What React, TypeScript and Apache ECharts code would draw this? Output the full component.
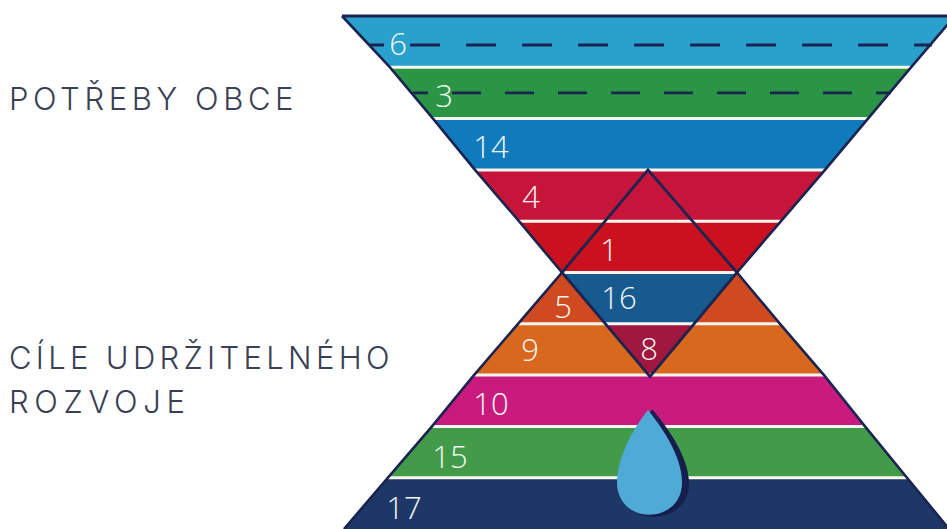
import React, { useEffect, useRef } from "react";
import * as echarts from "echarts";

// Rows of the hourglass, top to bottom (one row per level of the y axis)
const rowLabels = ["6", "3", "14", "4", "1", "5", "9", "10", "15", "17"];
const rowColors = ["#2aa0cc", "#2a9645", "#0f7abc", "#c5153b", "#c9111f", "#cf4a20", "#d9681f", "#c91b7d", "#429b48", "#1d3767"];
// Outline of the hourglass at each level (x axis units)
const outlineLeft = [342, 390, 433, 475, 519, 562, 518, 474, 432, 388, 344];
const outlineRight = [955, 911, 868, 825, 781, 737, 780, 824, 865, 907, 949];
// Inner diamond
const diamondX = [648, 737, 650, 562];
const diamondLevel = [3, 5, 7.03, 5];
const innerRows = [
  { color: "#165a8f", x: [562, 737, 693.5, 606], level: [5, 5, 6, 6] },
  { color: "#a01740", x: [606, 693.5, 650], level: [6, 6, 7.03] },
];
// Dashed lines
const dashLevel = [0.565, 1.5];
const dashFrom = [370, 413];
const dashTo = [932, 891];
const dashPhase = [16, 14];
const dashPattern = [[30, 26], [29, 24]];
// Goal numbers
const goalLabels = ["6", "3", "14", "4", "1", "16", "5", "9", "8", "10", "15", "17"];
const goalX = [398, 444, 491, 531, 609, 619, 563, 530, 649, 491, 450, 404];
const goalLevel = [0.53, 1.54, 2.53, 3.51, 4.54, 5.48, 5.65, 6.49, 6.47, 7.54, 8.58, 9.57];
const titleTop = "POTŘEBY OBCE";
const titleBottom = "CÍLE UDRŽITELNÉHO\nROZVOJE";
const titleSpacing: Record<string, string> = {
  "POTŘEBY OBCE": "4.6px",
  "CÍLE UDRŽITELNÉHO": "4.3px",
  "ROZVOJE": "5.7px",
};

const dropPath =
  "M31 0 C19 15 0 45 0 73 C0 92 14 105 32 105 C51 105 65 92 65 73 C65 45 43 15 31 0 Z";

const NAVY = "#1b2450";

function layer(n: number, renderItem: any, z: number) {
  return {
    type: "custom",
    coordinateSystem: "cartesian2d",
    silent: true,
    z,
    clip: false,
    data: Array.from({ length: n }, (_, i) => [i]),
    renderItem,
  };
}

export default function App() {
  const ref = useRef<HTMLDivElement>(null);
  useEffect(() => {
    document.body.style.margin = "0";
    const chart = echarts.init(ref.current!, undefined, { renderer: "svg" });
    const poly = (xs: number[], ls: number[], api: any) =>
      xs.map((x, i) => api.coord([x, ls[i]]));
    chart.setOption({
      animation: false,
      backgroundColor: "#ffffff",
      grid: { left: 0, right: 0, top: 16, bottom: 0 },
      xAxis: { type: "value", min: 0, max: 947, show: false },
      yAxis: { type: "value", min: 0, max: 10, inverse: true, show: false },
      tooltip: { show: false },
      graphic: [
        {
          type: "text",
          left: 9,
          top: 83,
          z: 50,
          style: { text: titleTop, fill: "#3a3f56", fontFamily: "Inter", fontWeight: 300, fontSize: 31 },
        },
        {
          type: "text",
          left: 9,
          top: 335,
          z: 50,
          style: {
            text: titleBottom,
            fill: "#3a3f56",
            fontFamily: "Inter",
            fontWeight: 300,
            fontSize: 31,
            lineHeight: 44,
          },
        },
      ],
      series: [
        layer(rowLabels.length, (p: any, api: any) => {
          const i = p.dataIndex;
          return {
            type: "polygon",
            shape: {
              points: poly(
                [outlineLeft[i], outlineRight[i], outlineRight[i + 1], outlineLeft[i + 1]],
                [i, i, i + 1, i + 1],
                api
              ),
            },
            style: { fill: rowColors[i] },
          };
        }, 1),
        layer(innerRows.length, (p: any, api: any) => {
          const r = innerRows[p.dataIndex];
          return {
            type: "polygon",
            shape: { points: poly(r.x, r.level, api) },
            style: { fill: r.color },
          };
        }, 2),
        layer(outlineLeft.length - 2, (p: any, api: any) => {
          const k = p.dataIndex + 1;
          const a = api.coord([outlineLeft[k], k]);
          const b = api.coord([outlineRight[k], k]);
          return {
            type: "line",
            shape: { x1: a[0], y1: a[1], x2: b[0], y2: b[1] },
            style: { stroke: "#f7f6f1", lineWidth: 3 },
          };
        }, 3),
        layer(dashLevel.length, (p: any, api: any) => {
          const i = p.dataIndex;
          const a = api.coord([dashFrom[i], dashLevel[i]]);
          const b = api.coord([dashTo[i], dashLevel[i]]);
          return {
            type: "line",
            shape: { x1: a[0], y1: a[1], x2: b[0], y2: b[1] },
            style: { stroke: NAVY, lineWidth: 2.8, lineDash: dashPattern[i], lineDashOffset: dashPhase[i] },
          };
        }, 4),
        layer(1, (_p: any, api: any) => ({
          type: "group",
          children: [
            {
              type: "polyline",
              shape: {
                points: poly(
                  [outlineLeft[0], outlineRight[0]],
                  [0, 0],
                  api
                ),
              },
              style: { stroke: NAVY, lineWidth: 3, fill: "none" },
            },
            {
              type: "polyline",
              shape: { points: outlineLeft.map((x, k) => api.coord([x, k])) },
              style: { stroke: NAVY, lineWidth: 2.6, fill: "none" },
            },
            {
              type: "polyline",
              shape: { points: outlineRight.map((x, k) => api.coord([x, k])) },
              style: { stroke: NAVY, lineWidth: 2.6, fill: "none" },
            },
            {
              type: "polygon",
              shape: { points: poly(diamondX, diamondLevel, api) },
              style: { stroke: NAVY, lineWidth: 2.8, fill: "none" },
            },
          ],
        }), 5),
        layer(goalLabels.length, (p: any, api: any) => {
          const i = p.dataIndex;
          const c = api.coord([goalX[i], goalLevel[i]]);
          return {
            type: "text",
            style: {
              text: goalLabels[i],
              x: c[0],
              y: c[1],
              fill: "#f4f6f2",
              fontFamily: "Open Sans",
              fontWeight: 300,
              fontSize: 31,
              align: "center",
              verticalAlign: "middle",
            },
          };
        }, 6),
        layer(2, (p: any, api: any) => {
          const shadow = p.dataIndex === 0;
          const tl = shadow ? api.coord([619, 7.67]) : api.coord([617, 7.68]);
          const br = shadow ? api.coord([689, 9.76]) : api.coord([682, 9.72]);
          return {
            type: "path",
            shape: {
              pathData: dropPath,
              layout: "cover",
              x: tl[0],
              y: tl[1],
              width: br[0] - tl[0],
              height: br[1] - tl[1],
            },
            style: { fill: shadow ? "#161e4d" : "#50aad6" },
          };
        }, 7),
      ],
    });
    const spacing = () => {
      ref.current?.querySelectorAll("text").forEach((t: any) => {
        const s = titleSpacing[(t.textContent || "").trim()];
        if (s) t.style.letterSpacing = s;
      });
    };
    spacing();
    chart.on("finished", spacing);
    return () => chart.dispose();
  }, []);
  return <div ref={ref} style={{ width: 947, height: 529 }} />;
}
